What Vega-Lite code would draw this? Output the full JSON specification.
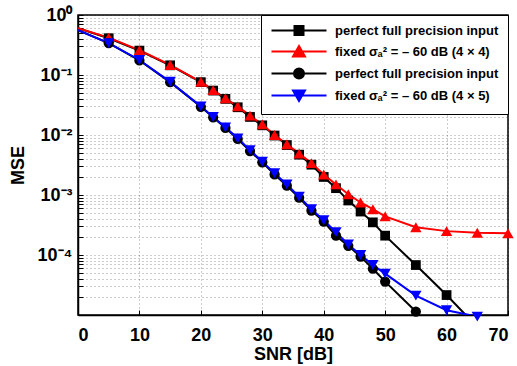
{
  "$schema": "https://vega.github.io/schema/vega-lite/v6.json",
  "width": 430,
  "height": 300,
  "autosize": {"type": "none"},
  "padding": {"left": 78, "top": 15, "right": 9, "bottom": 51},
  "config": {
    "font": "Liberation Sans",
    "view": {"stroke": "#000", "strokeWidth": 1.5},
    "axis": {
      "labelFont": "Liberation Sans",
      "labelFontWeight": "bold",
      "labelFontSize": 18,
      "labelColor": "#000",
      "titleFont": "Liberation Sans",
      "titleFontWeight": "bold",
      "titleFontSize": 18,
      "titleColor": "#000",
      "domainColor": "#000",
      "domainWidth": 1.5,
      "tickColor": "#000",
      "tickSize": -5,
      "gridColor": "#000",
      "gridOpacity": 0.4,
      "gridDash": [1, 3],
      "gridWidth": 1
    }
  },
  "data": {
    "values": [
      {"s": "A", "snr": 0, "mse": 0.6},
      {"s": "A", "snr": 5, "mse": 0.41},
      {"s": "A", "snr": 10, "mse": 0.255},
      {"s": "A", "snr": 15, "mse": 0.145},
      {"s": "A", "snr": 20, "mse": 0.076},
      {"s": "A", "snr": 22, "mse": 0.055},
      {"s": "A", "snr": 24, "mse": 0.04},
      {"s": "A", "snr": 26, "mse": 0.029},
      {"s": "A", "snr": 28, "mse": 0.02},
      {"s": "A", "snr": 30, "mse": 0.0145},
      {"s": "A", "snr": 32, "mse": 0.0098},
      {"s": "A", "snr": 34, "mse": 0.0068},
      {"s": "A", "snr": 36, "mse": 0.0047},
      {"s": "A", "snr": 38, "mse": 0.0032},
      {"s": "A", "snr": 40, "mse": 0.002},
      {"s": "A", "snr": 42, "mse": 0.0013},
      {"s": "A", "snr": 44, "mse": 0.00081},
      {"s": "A", "snr": 46, "mse": 0.00053},
      {"s": "A", "snr": 48, "mse": 0.00035},
      {"s": "A", "snr": 50, "mse": 0.00021},
      {"s": "A", "snr": 55, "mse": 0.000068},
      {"s": "A", "snr": 60, "mse": 0.0000215},
      {"s": "A", "snr": 65, "mse": 0.0000063},
      {"s": "B", "snr": 0, "mse": 0.6},
      {"s": "B", "snr": 5, "mse": 0.42},
      {"s": "B", "snr": 10, "mse": 0.26},
      {"s": "B", "snr": 15, "mse": 0.147},
      {"s": "B", "snr": 20, "mse": 0.077},
      {"s": "B", "snr": 22, "mse": 0.056},
      {"s": "B", "snr": 24, "mse": 0.041},
      {"s": "B", "snr": 26, "mse": 0.03},
      {"s": "B", "snr": 28, "mse": 0.021},
      {"s": "B", "snr": 30, "mse": 0.015},
      {"s": "B", "snr": 32, "mse": 0.01},
      {"s": "B", "snr": 34, "mse": 0.007},
      {"s": "B", "snr": 36, "mse": 0.0049},
      {"s": "B", "snr": 38, "mse": 0.0034},
      {"s": "B", "snr": 40, "mse": 0.0022},
      {"s": "B", "snr": 42, "mse": 0.0015},
      {"s": "B", "snr": 44, "mse": 0.00103},
      {"s": "B", "snr": 46, "mse": 0.00075},
      {"s": "B", "snr": 48, "mse": 0.00058},
      {"s": "B", "snr": 50, "mse": 0.00044},
      {"s": "B", "snr": 55, "mse": 0.00029},
      {"s": "B", "snr": 60, "mse": 0.00025},
      {"s": "B", "snr": 65, "mse": 0.000235},
      {"s": "B", "snr": 70, "mse": 0.00023},
      {"s": "C", "snr": 0, "mse": 0.56},
      {"s": "C", "snr": 5, "mse": 0.34},
      {"s": "C", "snr": 10, "mse": 0.175},
      {"s": "C", "snr": 15, "mse": 0.076},
      {"s": "C", "snr": 20, "mse": 0.0295},
      {"s": "C", "snr": 22, "mse": 0.0197},
      {"s": "C", "snr": 24, "mse": 0.0131},
      {"s": "C", "snr": 26, "mse": 0.0086},
      {"s": "C", "snr": 28, "mse": 0.0054},
      {"s": "C", "snr": 30, "mse": 0.0035},
      {"s": "C", "snr": 32, "mse": 0.0022},
      {"s": "C", "snr": 34, "mse": 0.00143},
      {"s": "C", "snr": 36, "mse": 0.0009},
      {"s": "C", "snr": 38, "mse": 0.00055},
      {"s": "C", "snr": 40, "mse": 0.00036},
      {"s": "C", "snr": 42, "mse": 0.00021},
      {"s": "C", "snr": 44, "mse": 0.000142},
      {"s": "C", "snr": 46, "mse": 0.000094},
      {"s": "C", "snr": 48, "mse": 0.000059},
      {"s": "C", "snr": 50, "mse": 0.000036},
      {"s": "C", "snr": 55, "mse": 0.0000114},
      {"s": "D", "snr": 0, "mse": 0.56},
      {"s": "D", "snr": 5, "mse": 0.34},
      {"s": "D", "snr": 10, "mse": 0.178},
      {"s": "D", "snr": 15, "mse": 0.077},
      {"s": "D", "snr": 20, "mse": 0.03},
      {"s": "D", "snr": 22, "mse": 0.02},
      {"s": "D", "snr": 24, "mse": 0.0134},
      {"s": "D", "snr": 26, "mse": 0.0088},
      {"s": "D", "snr": 28, "mse": 0.0056},
      {"s": "D", "snr": 30, "mse": 0.0036},
      {"s": "D", "snr": 32, "mse": 0.0023},
      {"s": "D", "snr": 34, "mse": 0.0015},
      {"s": "D", "snr": 36, "mse": 0.00094},
      {"s": "D", "snr": 38, "mse": 0.00058},
      {"s": "D", "snr": 40, "mse": 0.00038},
      {"s": "D", "snr": 42, "mse": 0.00024},
      {"s": "D", "snr": 44, "mse": 0.00015},
      {"s": "D", "snr": 46, "mse": 0.0001},
      {"s": "D", "snr": 48, "mse": 0.000068},
      {"s": "D", "snr": 50, "mse": 0.000049},
      {"s": "D", "snr": 55, "mse": 0.000021},
      {"s": "D", "snr": 60, "mse": 0.000012},
      {"s": "D", "snr": 65, "mse": 0.0000094}
    ]
  },
  "encoding": {
    "x": {
      "field": "snr",
      "type": "quantitative",
      "scale": {"domain": [0, 70], "nice": false, "zero": false},
      "axis": {
        "title": "SNR [dB]",
        "values": [0, 10, 20, 30, 40, 50, 60, 70],
        "labelPadding": 16,
        "titlePadding": 1
      }
    },
    "y": {
      "field": "mse",
      "type": "quantitative",
      "scale": {"type": "log", "domain": [0.00001, 1], "nice": false},
      "axis": {
        "title": "MSE",
        "titlePadding": 10,
        "labelPadding": 11,
        "values": [0.00001, 0.00002, 0.00003, 0.00004, 0.00005, 0.00006, 0.00007, 0.00008, 0.00009,
                   0.0001, 0.0002, 0.0003, 0.0004, 0.0005, 0.0006, 0.0007, 0.0008, 0.0009,
                   0.001, 0.002, 0.003, 0.004, 0.005, 0.006, 0.007, 0.008, 0.009,
                   0.01, 0.02, 0.03, 0.04, 0.05, 0.06, 0.07, 0.08, 0.09,
                   0.1, 0.2, 0.3, 0.4, 0.5, 0.6, 0.7, 0.8, 0.9, 1],
        "labelExpr": "datum.value == 1 ? '10⁰' : datum.value == 0.1 ? '10⁻¹' : datum.value == 0.01 ? '10⁻²' : datum.value == 0.001 ? '10⁻³' : datum.value == 0.0001 ? '10⁻⁴' : ''"
      }
    },
    "color": {
      "field": "s",
      "type": "nominal",
      "scale": {"domain": ["A", "B", "C", "D"], "range": ["#000000", "#ff0000", "#000000", "#0000ff"]},
      "legend": {
        "title": null,
        "orient": "top-right",
        "offset": 0,
        "fillColor": "#ffffff",
        "strokeColor": "#000000",
        "padding": 9,
        "symbolSize": 100,
        "labelOffset": 52,
        "rowPadding": 3,
        "labelFont": "Liberation Sans",
        "labelFontSize": 13,
        "labelFontWeight": "bold",
        "labelColor": "#000",
        "labelLimit": 300,
        "labelExpr": "datum.value == 'A' || datum.value == 'C' ? 'perfect full precision input' : datum.value == 'B' ? 'fixed σₐ² = – 60 dB (4 × 4)' : 'fixed σₐ² = – 60 dB (4 × 5)'",
        "encode": {
          "symbols": {
            "update": {
              "shape": {"signal": "datum.value == 'A' ? 'M-1,0L10,0M3.6,-0.9L5.4,-0.9L5.4,0.9L3.6,0.9Z' : datum.value == 'B' ? 'M-1,0L10,0M4.5,-1.1L5.7,1L3.3,1Z' : datum.value == 'C' ? 'M-1,0L10,0M3.5,0A1,1 0 1,0 5.5,0A1,1 0 1,0 3.5,0Z' : 'M-1,0L10,0M4.5,1.1L5.7,-1L3.3,-1Z'"},
              "strokeWidth": {"value": 2},
              "opacity": {"value": 1}
            }
          }
        }
      }
    }
  },
  "layer": [
    {
      "mark": {"type": "line", "strokeWidth": 2, "clip": true}
    },
    {
      "transform": [{"filter": "datum.s == 'A' && datum.snr > 0 && datum.mse >= 0.000009"}],
      "mark": {"type": "point", "shape": "square", "filled": true, "opacity": 1, "size": 95}
    },
    {
      "transform": [{"filter": "datum.s == 'B' && datum.snr > 0 && datum.mse >= 0.000009"}],
      "mark": {"type": "point", "shape": "triangle-up", "filled": true, "opacity": 1, "size": 130}
    },
    {
      "transform": [{"filter": "datum.s == 'C' && datum.snr > 0 && datum.mse >= 0.000009"}],
      "mark": {"type": "point", "shape": "circle", "filled": true, "opacity": 1, "size": 105}
    },
    {
      "transform": [{"filter": "datum.s == 'D' && datum.snr > 0 && datum.mse >= 0.000009"}],
      "mark": {"type": "point", "shape": "triangle-down", "filled": true, "opacity": 1, "size": 130}
    }
  ]
}
